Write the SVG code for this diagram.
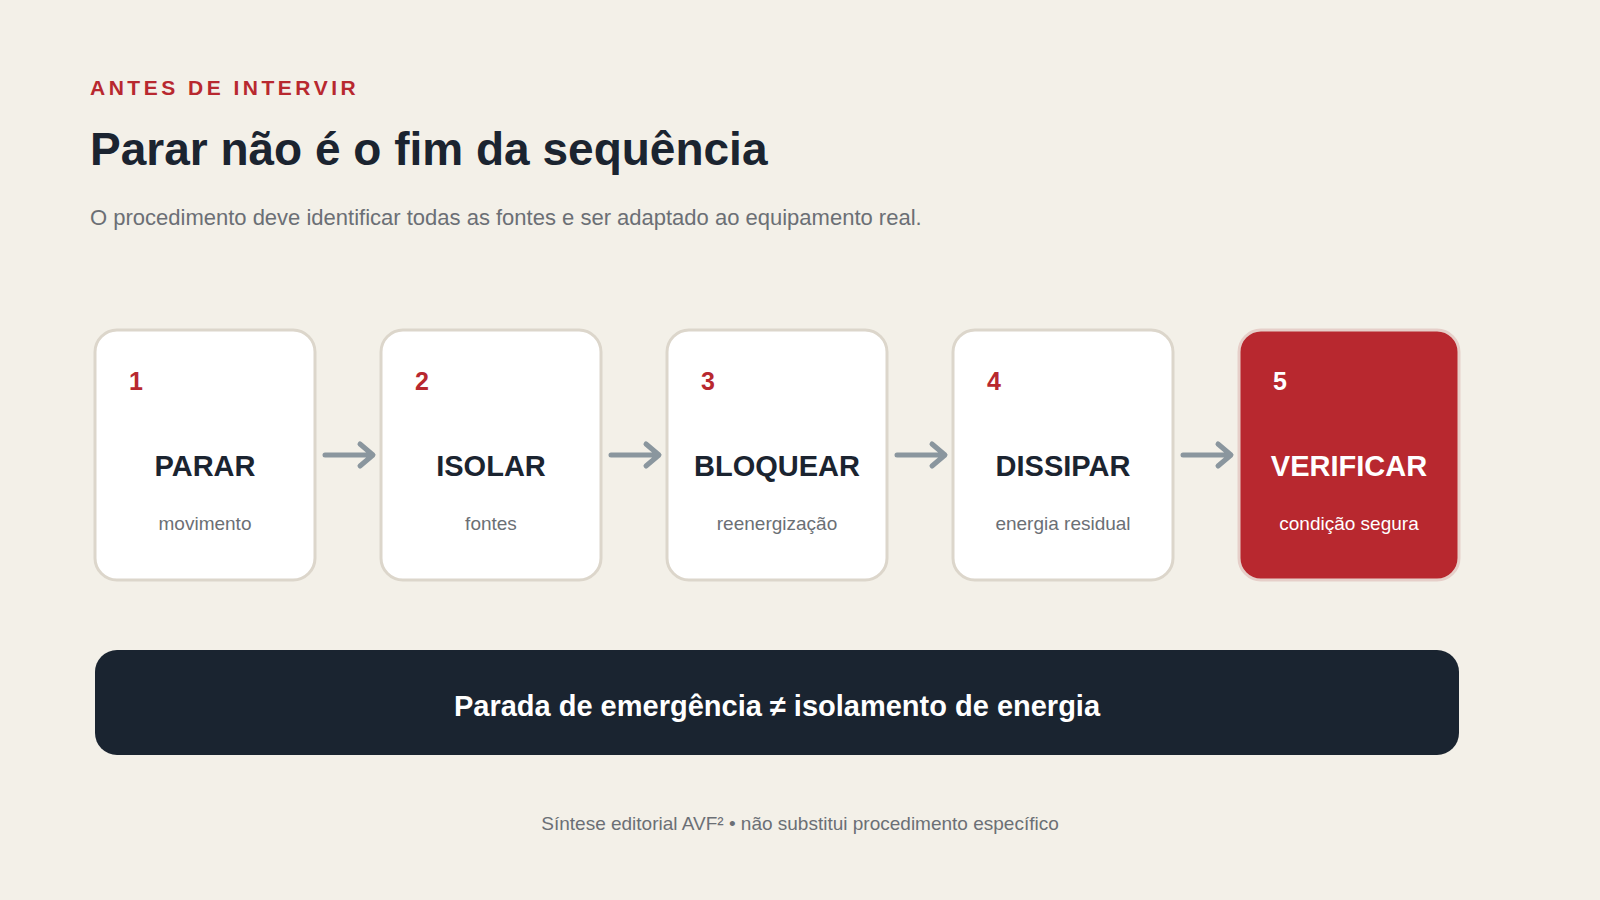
<svg xmlns="http://www.w3.org/2000/svg" width="1600" height="900" viewBox="0 0 1600 900">
<style>
text{font-family:"Liberation Sans",Arial,sans-serif}
.card{fill:#fff;stroke:#dcd6cb;stroke-width:3}
.num{font-size:25px;font-weight:bold;fill:#b8282f}
.lbl{font-size:29px;font-weight:bold;fill:#1b2430;text-anchor:middle}
.sub{font-size:19px;fill:#6b6f75;text-anchor:middle}
.arr{stroke:#8a969e;stroke-width:5;fill:none;stroke-linecap:round;stroke-linejoin:round}
</style>
<rect width="1600" height="900" fill="#f3f0e8"/>
<text x="90" y="95" font-size="21" font-weight="bold" fill="#b8282f" letter-spacing="3.5">ANTES DE INTERVIR</text>
<text x="90" y="165" font-size="46" font-weight="bold" fill="#1b2430">Parar não é o fim da sequência</text>
<text x="90" y="225" font-size="22" fill="#6b6f75">O procedimento deve identificar todas as fontes e ser adaptado ao equipamento real.</text>
<g id="n1"><rect class="card" x="95" y="330" width="220" height="250" rx="22"/><text class="num" x="129" y="390">1</text><text class="lbl" x="205" y="476">PARAR</text><text class="sub" x="205" y="530">movimento</text></g>
<g id="n2"><rect class="card" x="381" y="330" width="220" height="250" rx="22"/><text class="num" x="415" y="390">2</text><text class="lbl" x="491" y="476">ISOLAR</text><text class="sub" x="491" y="530">fontes</text></g>
<g id="n3"><rect class="card" x="667" y="330" width="220" height="250" rx="22"/><text class="num" x="701" y="390">3</text><text class="lbl" x="777" y="476">BLOQUEAR</text><text class="sub" x="777" y="530">reenergização</text></g>
<g id="n4"><rect class="card" x="953" y="330" width="220" height="250" rx="22"/><text class="num" x="987" y="390">4</text><text class="lbl" x="1063" y="476">DISSIPAR</text><text class="sub" x="1063" y="530">energia residual</text></g>
<g id="n5"><rect x="1239" y="330" width="220" height="250" rx="22" fill="#b8282f" stroke="#e6cfc9" stroke-width="3"/><text class="num" x="1273" y="390" fill="#fff" style="fill:#fff">5</text><text class="lbl" x="1349" y="476" style="fill:#fff">VERIFICAR</text><text class="sub" x="1349" y="530" style="fill:#fff">condição segura</text></g>
<g id="connectors">
<path class="arr" d="M325 455H372M360 444L373 455L360 466"/>
<path class="arr" d="M611 455H658M646 444L659 455L646 466"/>
<path class="arr" d="M897 455H944M932 444L945 455L932 466"/>
<path class="arr" d="M1183 455H1230M1218 444L1231 455L1218 466"/>
</g>
<g id="banner"><rect x="95" y="650" width="1364" height="105" rx="22" fill="#1a2430"/><text x="777" y="716" font-size="29" font-weight="bold" fill="#fff" text-anchor="middle">Parada de emergência ≠ isolamento de energia</text></g>
<text x="800" y="830" font-size="19" fill="#6b6f75" text-anchor="middle">Síntese editorial AVF² • não substitui procedimento específico</text>
</svg>
